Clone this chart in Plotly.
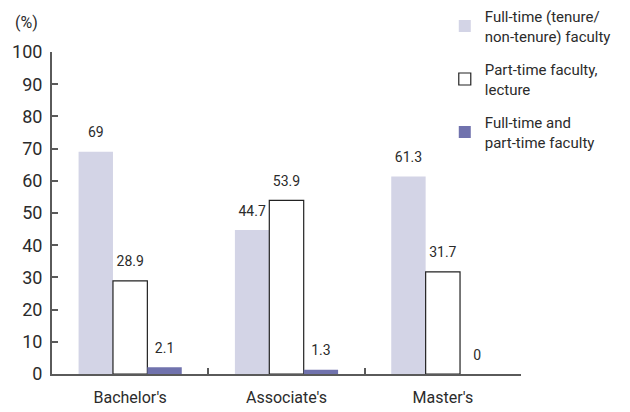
import plotly.graph_objects as go

categories = ["Bachelor's", "Associate's", "Master's"]
full_time = [69, 44.7, 61.3]
part_time = [28.9, 53.9, 31.7]
both = [2.1, 1.3, 0]

series_names = [
    "Full-time (tenure/<br>non-tenure) faculty",
    "Part-time faculty,<br>lecture",
    "Full-time and<br>part-time faculty",
]

FONT = "Roboto, sans-serif"
TEXT = "#2b2b2b"
AXIS = "#5a5a5a"
GAP = 0.34

fig = go.Figure()
styles = [
    dict(color="#d3d4e6", line=dict(width=0)),
    dict(color="#ffffff", line=dict(color="#222222", width=1.2)),
    dict(color="#7072ad", line=dict(width=0)),
]
values = [full_time, part_time, both]
for i, (name, vals, style) in enumerate(zip(series_names, values, styles)):
    fig.add_trace(
        go.Bar(
            x=categories,
            y=vals,
            name=name,
            legendgroup=f"g{i}",
            marker=style,
        )
    )
# value labels, grouped the same way as the bars
for i, vals in enumerate(values):
    fig.add_trace(
        go.Scatter(
            x=categories,
            y=vals,
            mode="markers+text",
            text=[f"{v:g}" for v in vals],
            textposition="top center",
            textfont=dict(family=FONT, size=14, color=TEXT),
            marker=dict(size=16, color="rgba(0,0,0,0)"),
            showlegend=False,
            hoverinfo="skip",
            cliponaxis=False,
        )
    )

fig.update_layout(
    width=630,
    height=412,
    barmode="group",
    bargap=GAP,
    bargroupgap=0,
    scattermode="group",
    scattergap=GAP,
    paper_bgcolor="white",
    plot_bgcolor="white",
    font=dict(family=FONT, color=TEXT),
    margin=dict(l=52, r=109, t=52, b=38, autoexpand=False),
    legend=dict(
        xref="container",
        yref="container",
        x=0.706,
        y=1.01,
        xanchor="left",
        yanchor="top",
        bgcolor="rgba(0,0,0,0)",
        font=dict(family=FONT, size=15, color=TEXT),
        tracegroupgap=11,
        itemwidth=30,
    ),
    annotations=[
        dict(
            text="(%)",
            x=0,
            y=1.0,
            xref="paper",
            yref="paper",
            xanchor="center",
            yanchor="middle",
            xshift=-26,
            yshift=30,
            showarrow=False,
            font=dict(family=FONT, size=16, color=TEXT),
        )
    ],
)
fig.update_xaxes(
    showline=True,
    linecolor=AXIS,
    linewidth=2,
    ticks="inside",
    tickson="boundaries",
    ticklen=6,
    tickwidth=2,
    tickcolor=AXIS,
    showgrid=False,
    ticklabelstandoff=8,
    tickfont=dict(family=FONT, size=16, color=TEXT),
)
fig.update_yaxes(
    range=[0, 100],
    dtick=10,
    showline=True,
    linecolor=AXIS,
    linewidth=2,
    ticks="inside",
    ticklen=6,
    tickwidth=2,
    tickcolor=AXIS,
    showgrid=False,
    zeroline=False,
    ticklabelstandoff=4,
    tickfont=dict(family=FONT, size=18, color=TEXT),
)

fig.write_html(
    "out.html",
    config={"displayModeBar": False},
    post_script="document.body.style.margin='0';",
)
